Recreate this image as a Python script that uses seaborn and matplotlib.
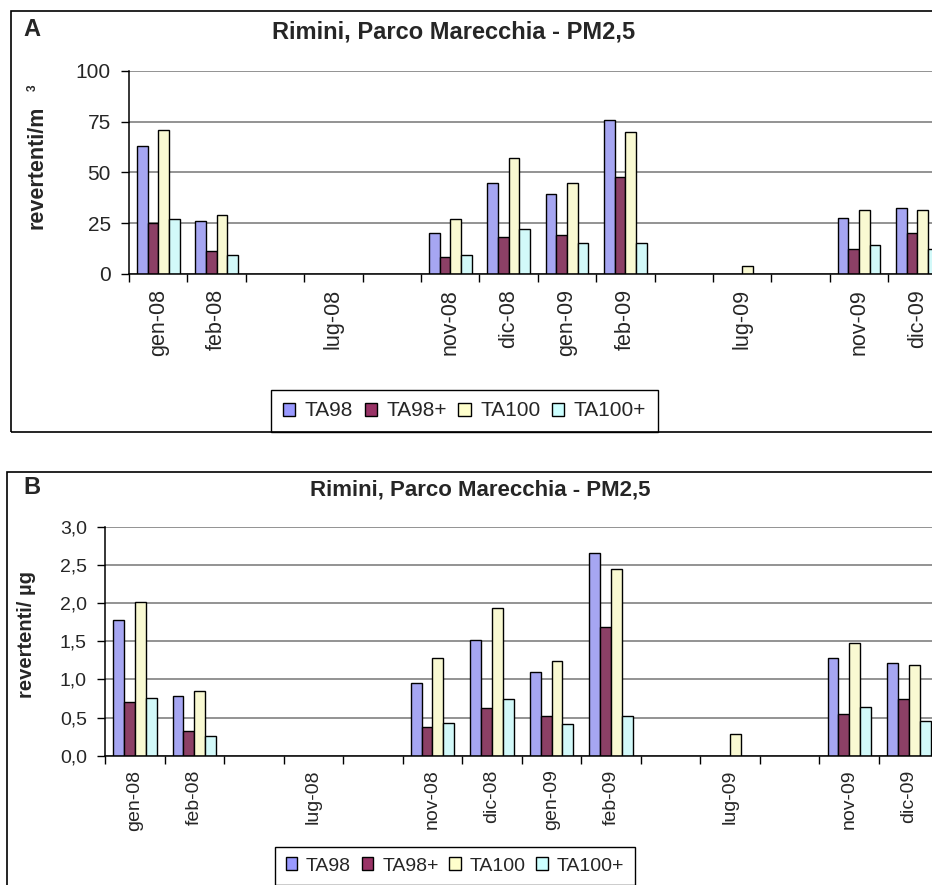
import numpy as np
import pandas as pd
import matplotlib
matplotlib.use("Agg")
import matplotlib.pyplot as plt
from matplotlib.patches import Rectangle, Patch
from matplotlib.ticker import FixedLocator, FixedFormatter, NullFormatter, FuncFormatter
import seaborn as sns

# Sampling months (empty slots are months without samples)
months = ["gen-08", "feb-08", "", "lug-08", "", "nov-08", "dic-08",
          "gen-09", "feb-09", "", "lug-09", "", "nov-09", "dic-09"]
strains = ["TA98", "TA98+", "TA100", "TA100+"]
colors = ["#9999FF", "#993366", "#FFFFCC", "#CCFFFF"]

nan = np.nan
# Revertants per m3
ta98_m3 = [63, 26, nan, nan, nan, 20, 44.5, 39.5, 76, nan, nan, nan, 27.5, 32.5]
ta98p_m3 = [25, 11, nan, nan, nan, 8, 18, 19, 47.5, nan, nan, nan, 12, 20]
ta100_m3 = [71, 29, nan, nan, nan, 27, 57, 44.5, 70, nan, 4, nan, 31.5, 31.5]
ta100p_m3 = [27, 9, nan, nan, nan, 9, 22, 15, 15, nan, nan, nan, 14, 12]

# Revertants per microgram of PM2.5
ta98_ug = [1.78, 0.78, nan, nan, nan, 0.95, 1.52, 1.09, 2.66, nan, nan, nan, 1.28, 1.21]
ta98p_ug = [0.71, 0.33, nan, nan, nan, 0.38, 0.62, 0.52, 1.69, nan, nan, nan, 0.55, 0.74]
ta100_ug = [2.02, 0.85, nan, nan, nan, 1.28, 1.93, 1.24, 2.45, nan, 0.28, nan, 1.48, 1.19]
ta100p_ug = [0.76, 0.26, nan, nan, nan, 0.43, 0.74, 0.41, 0.52, nan, nan, nan, 0.64, 0.45]

sns.set_style("white")
plt.rcParams["font.family"] = ["Liberation Sans", "DejaVu Sans"]

W, H = 932, 885
fig = plt.figure(figsize=(W / 100, H / 100), dpi=100)
fig.patch.set_facecolor("white")


def fig_box(left, top, right, bottom):
    """Pixel box (from top-left) -> figure-fraction rect."""
    return [left / W, 1 - bottom / H, (right - left) / W, (bottom - top) / H]


def long_frame(series):
    rows = []
    for name, vals in zip(strains, series):
        for i, v in enumerate(vals):
            rows.append({"slot": i, "strain": name, "value": v})
    return pd.DataFrame(rows)


def draw_panel(ax, series, ymax, yticks, fmt, xfs, yfs, xpad):
    df = long_frame(series)
    sns.barplot(data=df, x="slot", y="value", hue="strain",
                order=list(range(len(months))), hue_order=strains,
                palette=colors, width=0.73, edgecolor="black", linewidth=1.0,
                errorbar=None, legend=False, ax=ax, zorder=3)
    ax.set_xlim(-0.5, len(months) - 0.5)
    ax.set_ylim(0, ymax)
    ax.set_yticks(yticks)
    ax.yaxis.set_major_formatter(FuncFormatter(fmt))
    ax.xaxis.set_major_locator(FixedLocator(np.arange(-0.5, len(months), 1)))
    ax.xaxis.set_major_formatter(NullFormatter())
    ax.xaxis.set_minor_locator(FixedLocator(range(len(months))))
    ax.xaxis.set_minor_formatter(FixedFormatter(months))
    ax.tick_params(axis="x", which="major", length=6, width=1.0, direction="out",
                   bottom=True, color="black")
    ax.tick_params(axis="x", which="minor", length=0, labelrotation=90,
                   labelsize=xfs, pad=xpad, bottom=True)
    ax.tick_params(axis="y", length=6, width=1.0, direction="out", left=True,
                   labelsize=yfs, pad=7, color="black")
    ax.set_xlabel("")
    ax.set_ylabel("")
    ax.yaxis.grid(True, color="#808080", linewidth=1.2)
    ax.set_axisbelow(True)
    for s in ("top", "right"):
        ax.spines[s].set_visible(False)
    for s in ("left", "bottom"):
        ax.spines[s].set_color("black")
        ax.spines[s].set_linewidth(1.1)
        ax.spines[s].set_zorder(4)


def add_legend(cx, cy, fs):
    handles = [Patch(facecolor=c, edgecolor="black", linewidth=1.0) for c in colors]
    leg = fig.legend(handles=handles, labels=strains, ncol=4, loc="center",
                     bbox_to_anchor=(cx / W, 1 - cy / H), frameon=True,
                     fancybox=False, edgecolor="black", framealpha=1,
                     fontsize=fs, handlelength=0.6, handleheight=0.6,
                     handletextpad=0.45, columnspacing=0.55, borderpad=0.55,
                     borderaxespad=0)
    leg.get_frame().set_linewidth(1.0)


# ---------- Panel A: revertants / m3 ----------
axA = fig.add_axes(fig_box(129, 71, 129 + 14 * 58.4, 273.7))
draw_panel(axA, [ta98_m3, ta98p_m3, ta100_m3, ta100p_m3], 100,
           [0, 25, 50, 75, 100], lambda v, p: f"{v:.0f}", 15.5, 15, 11)
fig.text(454 / W, 1 - 32 / H, "Rimini, Parco Marecchia - PM2,5",
         ha="center", va="center", fontsize=17, fontweight="bold")
fig.text(32 / W, 1 - 29 / H, "A", ha="center", va="center",
         fontsize=17, fontweight="bold")
fig.text(37 / W, 1 - 167.5 / H, "revertenti/m", rotation=90,
         ha="center", va="center", fontsize=15.5, fontweight="bold")
fig.text(33 / W, 1 - 88 / H, "3", rotation=90,
         ha="center", va="center", fontsize=8.5, fontweight="bold")
add_legend(464.5, 411, 15)
fig.add_artist(Rectangle((11 / W, 1 - 432 / H), (960 - 11) / W, (432 - 11) / H,
                         transform=fig.transFigure, fill=False,
                         edgecolor="black", linewidth=1.2, zorder=10))

# ---------- Panel B: revertants / µg ----------
axB = fig.add_axes(fig_box(105, 526.7, 105 + 14 * 59.54, 755.7))
draw_panel(axB, [ta98_ug, ta98p_ug, ta100_ug, ta100p_ug], 3.0,
           [0, 0.5, 1.0, 1.5, 2.0, 2.5, 3.0],
           lambda v, p: f"{v:.1f}".replace(".", ","), 14, 14, 10)
fig.text(480 / W, 1 - 490 / H, "Rimini, Parco Marecchia - PM2,5",
         ha="center", va="center", fontsize=16, fontweight="bold")
fig.text(32 / W, 1 - 488 / H, "B", ha="center", va="center",
         fontsize=17, fontweight="bold")
fig.text(27 / W, 1 - 634 / H, "revertenti/ µg", rotation=90,
         ha="center", va="center", fontsize=14.5, fontweight="bold")
add_legend(455, 866, 14)
fig.add_artist(Rectangle((7 / W, 1 - 900 / H), (960 - 7) / W, (900 - 472) / H,
                         transform=fig.transFigure, fill=False,
                         edgecolor="black", linewidth=1.2, zorder=10))

fig.savefig("out.png", dpi=100, facecolor="white")
